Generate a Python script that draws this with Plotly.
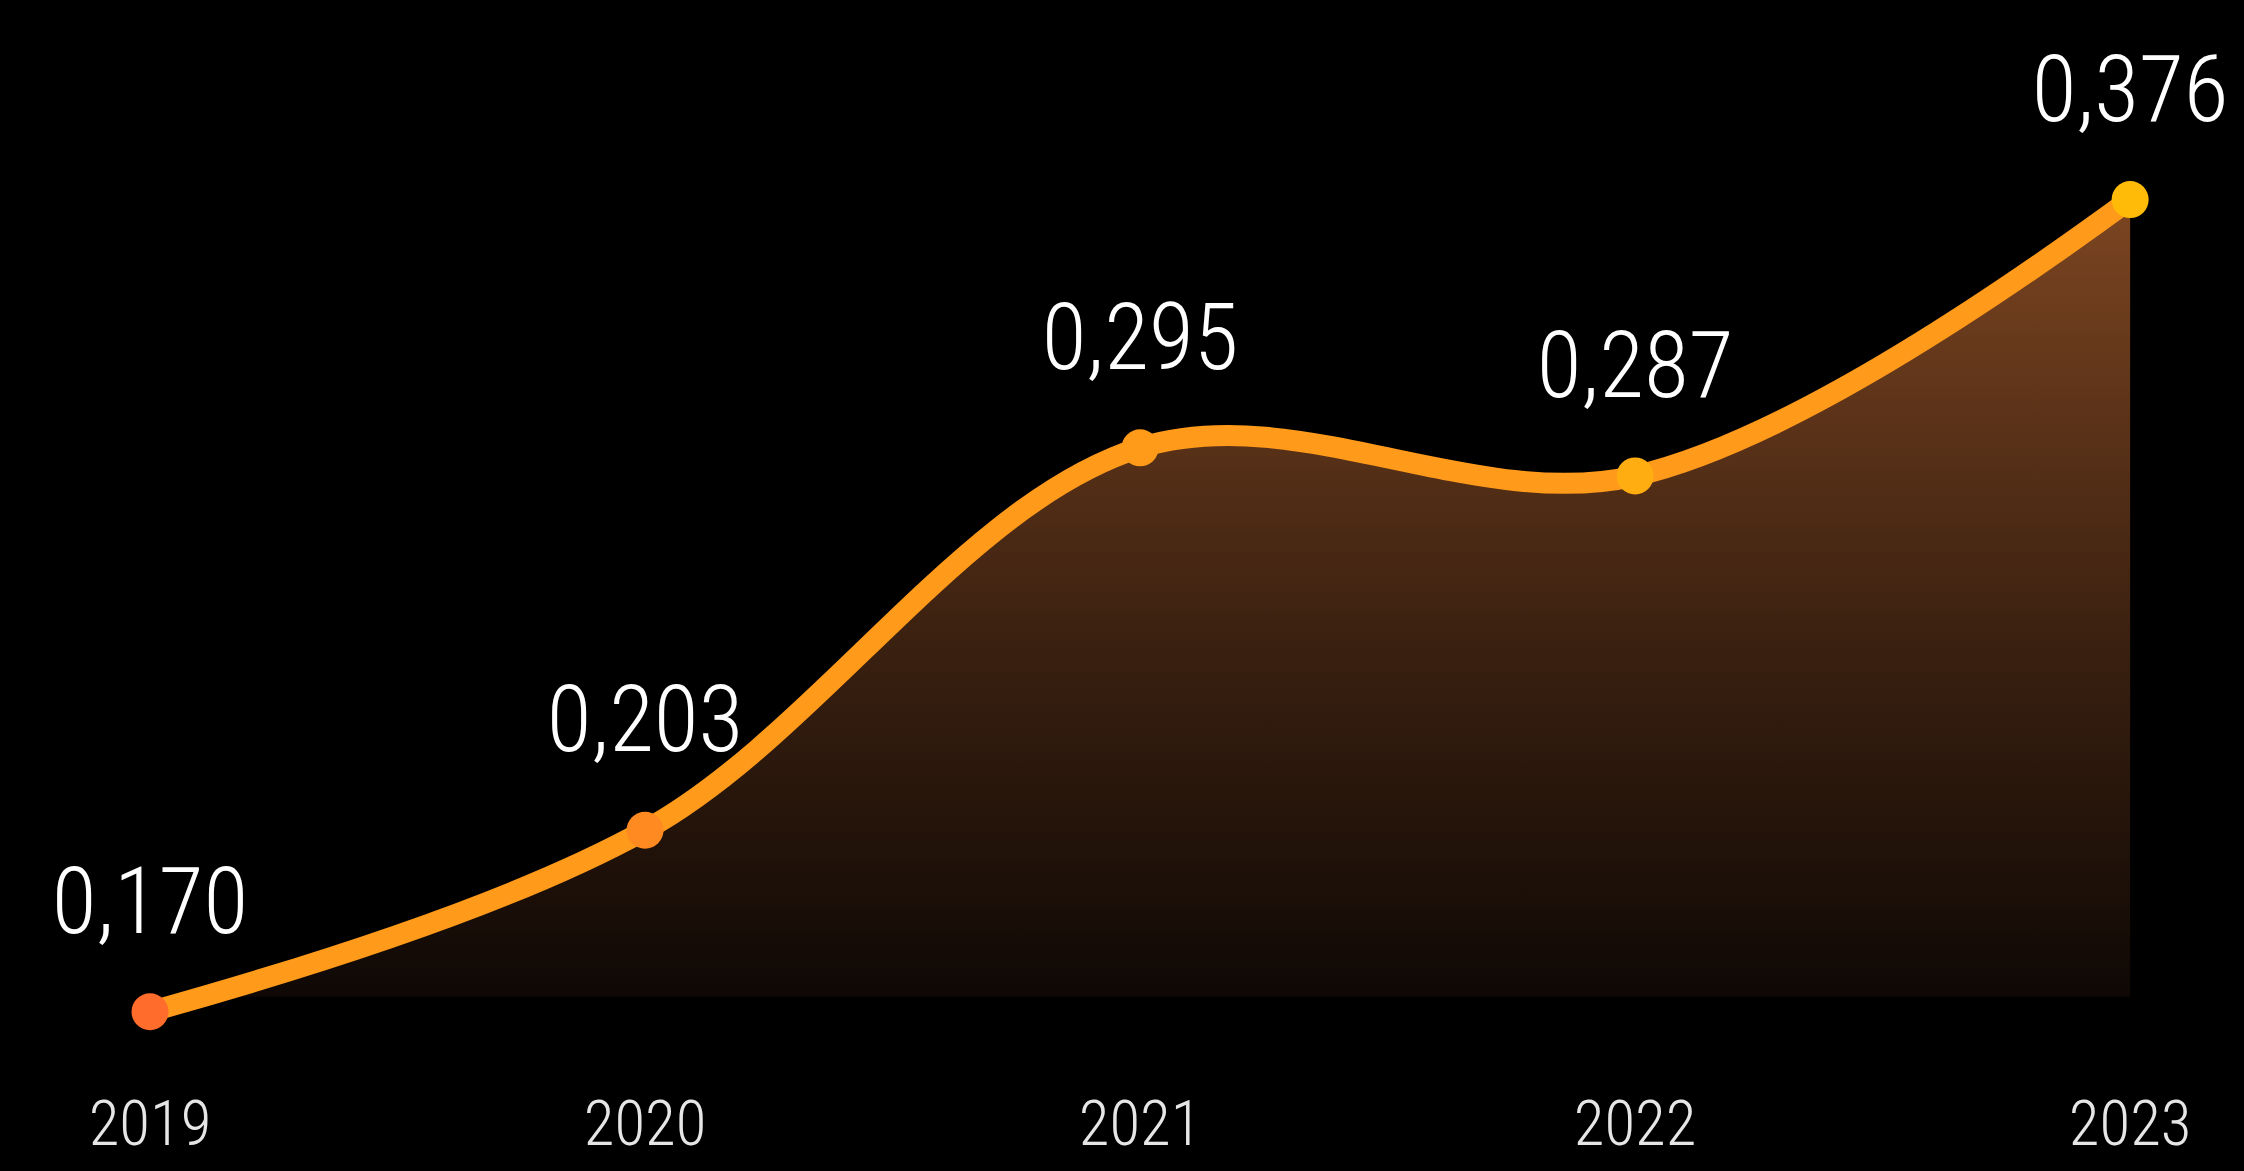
import plotly.graph_objects as go

years = [2019, 2020, 2021, 2022, 2023]
values = [0.170, 0.203, 0.295, 0.287, 0.376]
tick_labels = ["2019", "2020", "2021", "2022", "2023"]
point_labels = [f"{v:.3f}".replace(".", ",") for v in values]
point_colors = ["#ff6c2c", "#ff8a22", "#ff9b18", "#ffad10", "#ffbb08"]

fill_floor = 0.1725  # visual floor of the shaded area

FONT = "Roboto Condensed, Noto Sans Condensed, Liberation Sans Narrow, DejaVu Sans Condensed, sans-serif"

fig = go.Figure()

# baseline for the area fill
fig.add_trace(go.Scatter(
    x=years, y=[fill_floor] * len(years), mode="lines",
    line=dict(width=0, color="rgba(0,0,0,0)"), hoverinfo="skip", showlegend=False,
))

# filled curve
fig.add_trace(go.Scatter(
    x=years, y=values, mode="lines",
    line=dict(color="#ff9a1a", width=21, shape="spline", smoothing=1.0),
    fill="tonexty",
    fillgradient=dict(
        type="vertical",
        colorscale=[[0, "#0d0704"], [0.45, "#3a2010"], [1, "#7c4521"]],
    ),
    showlegend=False, hoverinfo="skip",
))

# points
fig.add_trace(go.Scatter(
    x=years, y=values, mode="markers",
    marker=dict(size=37, color=point_colors, line=dict(width=0)),
    cliponaxis=False, showlegend=False, hoverinfo="skip",
))

# value labels
fig.add_trace(go.Scatter(
    x=years, y=values, mode="markers+text",
    marker=dict(size=88, color="rgba(0,0,0,0)"),
    text=point_labels, textposition="top center",
    textfont=dict(family=FONT, size=92, color="#ffffff", weight=300),
    cliponaxis=False, showlegend=False, hoverinfo="skip",
))

fig.update_layout(
    width=2244, height=1171,
    paper_bgcolor="#000000", plot_bgcolor="#000000",
    margin=dict(l=0, r=0, t=0, b=92),
    showlegend=False,
    xaxis=dict(
        range=[2018.697, 2023.230], automargin=False,
        tickmode="array", tickvals=years, ticktext=tick_labels,
        ticklabelstandoff=2,
        showgrid=False, zeroline=False, showline=False, ticks="",
        tickfont=dict(family=FONT, size=63, color="#e6e6e6", weight=300),
    ),
    yaxis=dict(
        type="log", range=[-0.7981, -0.3401], automargin=False,
        showgrid=False, zeroline=False, showline=False,
        showticklabels=False, ticks="",
    ),
)

fig.write_html(
    "out.html",
    config={"displayModeBar": False},
    post_script="document.body.style.margin='0';document.body.style.background='#000';",
)
